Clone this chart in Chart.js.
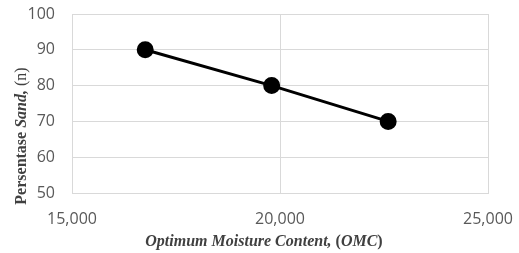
<!DOCTYPE html>
<html>
<head>
<meta charset="utf-8">
<script src="https://cdn.jsdelivr.net/npm/chart.js@4"></script>
<style>
  html, body { margin: 0; padding: 0; background: #fff; }
  #wrap { width: 519px; height: 253px; }
</style>
</head>
<body>
<div id="wrap"><canvas id="chart" width="519" height="253"></canvas></div>
<script>
const omc = [16.76, 19.8, 22.6];
const sand = [90, 80, 70];

const xTitle = [
  ["Optimum Moisture Content, ", "italic bold"],
  ["(", "bold"],
  ["OMC", "italic bold"],
  [")", "bold"]
];
const yTitle = [
  ["Persentase ", "bold"],
  ["Sand,", "italic bold"],
  [" (n)", "normal"]
];

const serif = "16px 'Liberation Serif', 'Times New Roman', serif";

function drawParts(ctx, parts, cx, cy, angle) {
  ctx.save();
  ctx.translate(cx, cy);
  ctx.rotate(angle);
  let total = 0;
  parts.forEach(p => {
    ctx.font = p[1] + " " + serif;
    total += ctx.measureText(p[0]).width;
  });
  let x = -total / 2;
  ctx.fillStyle = "#404040";
  ctx.textBaseline = "middle";
  ctx.textAlign = "left";
  parts.forEach(p => {
    ctx.font = p[1] + " " + serif;
    ctx.fillText(p[0], x, 0);
    x += ctx.measureText(p[0]).width;
  });
  ctx.restore();
}

// titles mix bold, italic and plain runs, so draw them by hand
const axisTitles = {
  id: "axisTitles",
  afterDraw(c) {
    drawParts(c.ctx, xTitle, 264, 242, 0);
    drawParts(c.ctx, yTitle, 21.5, 136, -Math.PI / 2);
  }
};

function fmt(v) {
  return Number(v).toFixed(3).replace(".", ",");
}

const chart = new Chart(document.getElementById("chart").getContext("2d"), {
  type: "scatter",
  data: {
    datasets: [
      {
        data: omc.map((x, i) => ({ x: x, y: sand[i] })),
        showLine: true,
        borderColor: "#000",
        backgroundColor: "#000",
        borderWidth: 3,
        pointRadius: 7,
        pointHoverRadius: 7
      }
    ]
  },
  options: {
    responsive: false,
    animation: false,
    layout: { autoPadding: false, padding: { left: 27, right: 31, top: 14, bottom: 24 } },
    plugins: {
      legend: { display: false },
      tooltip: { enabled: false }
    },
    scales: {
      x: {
        type: "linear",
        min: 15,
        max: 25,
        afterFit: s => { s.height = 36; s.paddingLeft = 0; s.paddingRight = 0; },
        ticks: {
          stepSize: 5,
          padding: 17,
          color: "#595959",
          font: { family: "'Open Sans'", size: 16 },
          callback: v => fmt(v),
          maxRotation: 0
        },
        grid: { color: "#d9d9d9", drawTicks: false },
        border: { color: "#d9d9d9" }
      },
      y: {
        min: 50,
        max: 100,
        afterFit: s => { s.width = 45; s.paddingTop = 0; s.paddingBottom = 0; },
        ticks: {
          stepSize: 10,
          padding: 17,
          color: "#595959",
          font: { family: "'Open Sans'", size: 16 }
        },
        grid: { color: "#d9d9d9", drawTicks: false },
        border: { color: "#d9d9d9" }
      }
    }
  },
  plugins: [axisTitles]
});
</script>
</body>
</html>
